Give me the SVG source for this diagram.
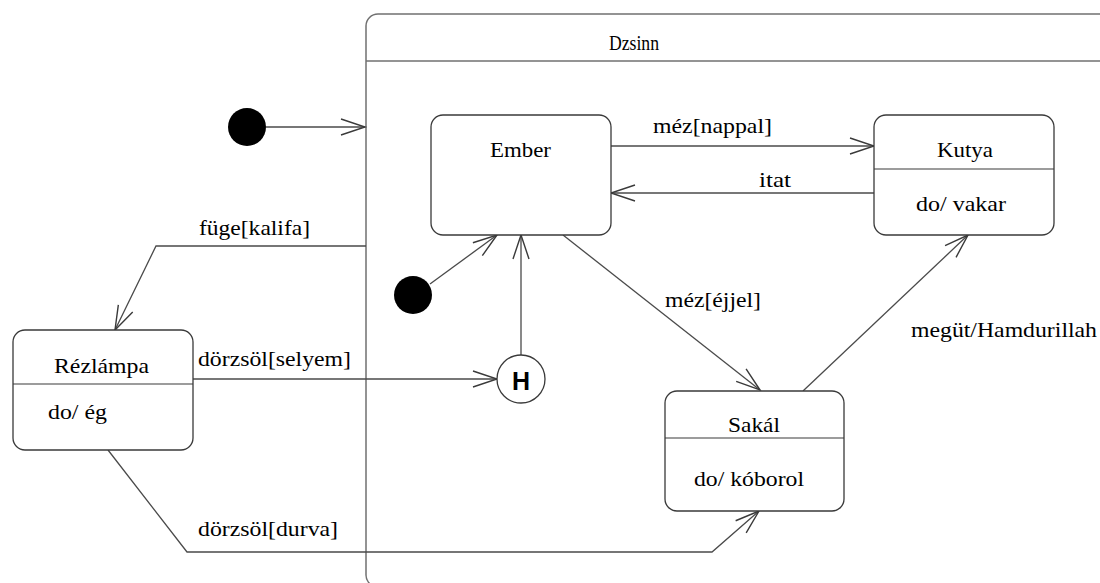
<svg xmlns="http://www.w3.org/2000/svg" width="1100" height="583" viewBox="0 0 1100 583">
<style>
.box{fill:#fff;stroke:#3a3a3a;stroke-width:1.3}
.sep{stroke:#3a3a3a;stroke-width:1.2}
.comp{fill:none;stroke:#707070;stroke-width:1.5}
.conn{fill:none;stroke:#4a4a4a;stroke-width:1.3}
.t{font-family:"Liberation Serif","Times New Roman",serif;font-size:21px;fill:#000}
.h{font-family:"Liberation Sans",Arial,sans-serif;font-size:25px;font-weight:bold;fill:#000}
.dot{fill:#000}
</style>
<defs>
<marker id="arr" markerUnits="userSpaceOnUse" markerWidth="30" markerHeight="20" refX="0" refY="0" viewBox="-26 -10 28 20" orient="auto" overflow="visible">
<path d="M-24,-8 L0,0 L-24,8" fill="none" stroke="#3a3a3a" stroke-width="1.4"/>
</marker>
</defs>
<rect width="1100" height="583" fill="#fff"/>
<g id="dzsinn">
<rect class="comp" x="366" y="14" width="800" height="573" rx="12"/>
<line class="comp" x1="366" y1="61" x2="1100" y2="61"/>
<text class="t" x="634" y="50" text-anchor="middle" font-size="20" textLength="50" lengthAdjust="spacingAndGlyphs">Dzsinn</text>
</g>
<g id="connectors">
<line class="conn" x1="266" y1="127" x2="365" y2="127" marker-end="url(#arr)"/>
<line class="conn" x1="430" y1="284" x2="497" y2="235" marker-end="url(#arr)"/>
<line class="conn" x1="611" y1="146" x2="874" y2="146" marker-end="url(#arr)"/>
<line class="conn" x1="874" y1="193" x2="611" y2="193" marker-end="url(#arr)"/>
<polyline class="conn" points="366,246 156,246 115,330" marker-end="url(#arr)"/>
<line class="conn" x1="193" y1="379" x2="497" y2="379" marker-end="url(#arr)"/>
<line class="conn" x1="521" y1="355" x2="521" y2="235" marker-end="url(#arr)"/>
<line class="conn" x1="563" y1="235" x2="760" y2="390" marker-end="url(#arr)"/>
<line class="conn" x1="803" y1="391" x2="968" y2="235" marker-end="url(#arr)"/>
<polyline class="conn" points="108,450 187,552 712,552 759,511" marker-end="url(#arr)"/>
<text class="t" x="653" y="133" textLength="119" lengthAdjust="spacingAndGlyphs">méz[nappal]</text>
<text class="t" x="759" y="187" textLength="32" lengthAdjust="spacingAndGlyphs">itat</text>
<text class="t" x="199" y="235" textLength="111" lengthAdjust="spacingAndGlyphs">füge[kalifa]</text>
<text class="t" x="198" y="366" textLength="153" lengthAdjust="spacingAndGlyphs">dörzsöl[selyem]</text>
<text class="t" x="665" y="307" textLength="96" lengthAdjust="spacingAndGlyphs">méz[éjjel]</text>
<text class="t" x="911" y="337" textLength="186" lengthAdjust="spacingAndGlyphs">megüt/Hamdurillah</text>
<text class="t" x="198" y="536" textLength="140" lengthAdjust="spacingAndGlyphs">dörzsöl[durva]</text>
</g>
<g id="init1"><circle class="dot" cx="247" cy="127" r="19"/></g>
<g id="init2"><circle class="dot" cx="413" cy="295" r="19"/></g>
<g id="history">
<circle cx="521" cy="379" r="24" fill="#fff" stroke="#3a3a3a" stroke-width="1.3"/>
<text class="h" x="521" y="390" text-anchor="middle">H</text>
</g>
<g id="ember">
<rect class="box" x="431" y="115" width="180" height="120" rx="12"/>
<text class="t" x="490" y="157" textLength="61" lengthAdjust="spacingAndGlyphs">Ember</text>
</g>
<g id="kutya">
<rect class="box" x="874" y="115" width="180" height="120" rx="12"/>
<line class="sep" x1="874" y1="169" x2="1054" y2="169"/>
<text class="t" x="937" y="157" textLength="56" lengthAdjust="spacingAndGlyphs">Kutya</text>
<text class="t" x="916" y="211" textLength="90" lengthAdjust="spacingAndGlyphs">do/ vakar</text>
</g>
<g id="rezlampa">
<rect class="box" x="13" y="330" width="180" height="120" rx="12"/>
<line class="sep" x1="13" y1="384" x2="193" y2="384"/>
<text class="t" x="54" y="373" textLength="95" lengthAdjust="spacingAndGlyphs">Rézlámpa</text>
<text class="t" x="48" y="419" textLength="59" lengthAdjust="spacingAndGlyphs">do/ ég</text>
</g>
<g id="sakal">
<rect class="box" x="665" y="391" width="179" height="120" rx="12"/>
<line class="sep" x1="665" y1="438" x2="844" y2="438"/>
<text class="t" x="728" y="432" textLength="52" lengthAdjust="spacingAndGlyphs">Sakál</text>
<text class="t" x="694" y="486" textLength="110" lengthAdjust="spacingAndGlyphs">do/ kóborol</text>
</g>
</svg>
